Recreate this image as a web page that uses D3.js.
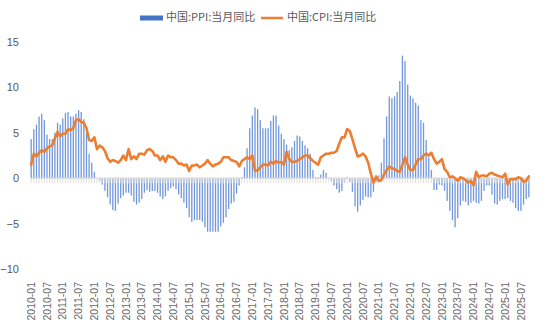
<!DOCTYPE html>
<html><head><meta charset="utf-8">
<script src="https://cdn.jsdelivr.net/npm/d3@7"></script>
<style>
html,body{margin:0;padding:0;background:#fff;}
svg{display:block;}
</style></head>
<body>
<svg id="chart" width="550" height="333"></svg>
<script>
const startYear = 2010;
const seriesNames = ["中国:PPI:当月同比", "中国:CPI:当月同比"];
const cpi = [
 1.5, 2.7, 2.4, 2.8, 3.1, 2.9, 3.3, 3.5, 3.6, 4.4, 5.1, 4.6,
 4.9, 4.9, 5.4, 5.3, 5.5, 6.4, 6.5, 6.2, 6.1, 5.5, 4.2, 4.1,
 4.5, 3.2, 3.6, 3.4, 3.0, 2.2, 1.8, 2.0, 1.9, 1.7, 2.0, 2.5,
 2.0, 3.2, 2.1, 2.4, 2.1, 2.7, 2.7, 2.6, 3.1, 3.2, 3.0, 2.5,
 2.5, 2.0, 2.4, 1.8, 2.5, 2.3, 2.3, 2.0, 1.6, 1.6, 1.4, 1.5,
 0.8, 1.4, 1.4, 1.5, 1.2, 1.4, 1.6, 2.0, 1.6, 1.3, 1.5, 1.6,
 1.8, 2.3, 2.3, 2.3, 2.0, 1.9, 1.8, 1.3, 1.9, 2.1, 2.3, 2.1,
 2.5, 0.8, 0.9, 1.2, 1.5, 1.5, 1.4, 1.8, 1.6, 1.9, 1.7, 1.8,
 1.5, 2.9, 2.1, 1.8, 1.8, 1.9, 2.1, 2.3, 2.5, 2.5, 2.2, 1.9,
 1.7, 1.5, 2.3, 2.5, 2.7, 2.7, 2.8, 2.8, 3.0, 3.8, 4.5, 4.5,
 5.4, 5.2, 4.3, 3.3, 2.4, 2.5, 2.7, 2.4, 1.7, 0.5, -0.5, 0.2,
 -0.3, -0.2, 0.4, 0.9, 1.3, 1.1, 1.0, 0.8, 0.7, 1.5, 2.3, 1.5,
 0.9, 0.9, 1.5, 2.1, 2.1, 2.5, 2.7, 2.5, 2.8, 2.1, 1.6, 1.8,
 2.1, 1.0, 0.7, 0.1, 0.2, 0.0, -0.3, 0.1, 0.0, -0.2, -0.5, -0.3,
 -0.8, 0.7, 0.1, 0.3, 0.3, 0.2, 0.5, 0.6, 0.4, 0.3, 0.2, 0.1,
 0.5, -0.7, -0.1, -0.1, -0.1, 0.1, 0.0, -0.4, -0.3, 0.2
];
const ppi = [
 4.3, 5.4, 5.9, 6.8, 7.1, 6.4, 4.8, 4.3, 4.3, 5.0, 6.1, 5.9,
 6.6, 7.2, 7.3, 6.8, 6.8, 7.1, 7.5, 7.3, 6.5, 5.0, 2.7, 1.7,
 0.7, 0.0, -0.3, -0.7, -1.4, -2.1, -2.9, -3.5, -3.6, -2.8, -2.2, -1.9,
 -1.6, -1.6, -1.9, -2.6, -2.9, -2.7, -2.3, -1.6, -1.3, -1.5, -1.4, -1.4,
 -1.6, -2.0, -2.3, -2.0, -1.4, -1.1, -0.9, -1.2, -1.8, -2.2, -2.7, -3.3,
 -4.3, -4.8, -4.6, -4.6, -4.6, -4.8, -5.4, -5.9, -5.9, -5.9, -5.9, -5.9,
 -5.3, -4.9, -4.3, -3.4, -2.8, -2.6, -1.7, -0.8, 0.1, 1.2, 3.3, 5.5,
 6.9, 7.8, 7.6, 6.4, 5.5, 5.5, 5.5, 6.3, 6.9, 6.9, 5.8, 4.9,
 4.3, 3.7, 3.1, 3.4, 4.1, 4.7, 4.6, 4.1, 3.6, 3.3, 2.7, 0.9,
 0.1, 0.1, 0.4, 0.9, 0.6, 0.0, -0.3, -0.8, -1.2, -1.6, -1.4, -0.5,
 0.1, -0.4, -1.5, -3.1, -3.7, -3.0, -2.4, -2.0, -2.1, -2.1, -1.5, -0.4,
 0.3, 1.7, 4.4, 6.8, 9.0, 8.8, 9.0, 9.5, 10.7, 13.5, 12.9, 10.3,
 9.1, 8.8, 8.3, 8.0, 6.4, 6.1, 4.2, 2.3, 0.9, -1.3, -1.3, -0.7,
 -0.8, -1.4, -2.5, -3.6, -4.6, -5.4, -4.4, -3.0, -2.5, -2.6, -3.0, -2.7,
 -2.5, -2.7, -2.8, -2.5, -1.4, -0.8, -0.8, -1.8, -2.8, -2.9, -2.5, -2.3,
 -2.3, -2.2, -2.5, -2.7, -3.3, -3.6, -3.6, -2.9, -2.3, -2.1
];
const months = ppi.map((_, i) => {
  const yy = startYear + Math.floor(i / 12), m = (i % 12) + 1;
  return yy + "-" + String(m).padStart(2, "0");
});
const tickLabels = months.filter((_, i) => i % 6 === 0);
const yTicks = [-10, -5, 0, 5, 10, 15];

const svg = d3.select("#chart");
const mLeft = 30, mRight = 530, mTop = 42, mBottom = 269;
const font = "'Liberation Sans', Arial, sans-serif";
const textColor = "#595959";

const x = d3.scaleBand().domain(months).range([mLeft, mRight]).paddingInner(0.5).paddingOuter(0.2);
const xc = d => x(d) + x.bandwidth() / 2;
const y = d3.scaleLinear().domain([-10, 15]).range([mBottom, mTop]);

// y axis labels
const yAxis = d3.axisLeft(y).tickValues(yTicks).tickSize(0).tickPadding(0);
const gy = svg.append("g").attr("transform", "translate(19,0)").call(yAxis);
gy.select(".domain").remove();
gy.selectAll("text").attr("fill", textColor).style("font-family", font).style("font-size", "11px");

// bars
svg.append("g").selectAll("rect").data(ppi).join("rect")
  .attr("x", (d, i) => x(months[i]))
  .attr("width", x.bandwidth())
  .attr("y", d => y(Math.max(0, d)))
  .attr("height", d => Math.abs(y(d) - y(0)))
  .attr("fill", "#7398dc");

// zero axis with category ticks
const xAxis = d3.axisBottom(x).tickValues(months).tickSize(5).tickFormat("");
const gx = svg.append("g").attr("transform", `translate(0,${y(0)})`).call(xAxis);
gx.select(".domain").attr("stroke", "#d9d9d9").attr("stroke-width", 1.2).attr("d", `M${mLeft},0H${mRight}`);
gx.selectAll(".tick line").attr("stroke", "#d9d9d9").attr("stroke-width", 0.8);

// CPI line
const line = d3.line().x((d, i) => xc(months[i])).y(d => y(d));
svg.append("path").datum(cpi).attr("d", line)
  .attr("fill", "none").attr("stroke", "#ED7D31").attr("stroke-width", 2.6)
  .attr("stroke-linejoin", "round").attr("stroke-linecap", "round");

// x labels
const xLab = d3.axisBottom(x).tickValues(tickLabels).tickSize(0).tickPadding(0);
const gl = svg.append("g").attr("transform", "translate(0,282)").call(xLab);
gl.select(".domain").remove();
gl.selectAll("text")
  .attr("transform", "rotate(-90)")
  .attr("text-anchor", "end")
  .attr("x", 0).attr("y", 0).attr("dy", "0.35em")
  .attr("fill", "#666666")
  .style("font-family", font).style("font-size", "10.5px");

// legend
const lg = svg.append("g").style("font-family", "'Noto Sans CJK SC', sans-serif").style("font-size", "11px");
lg.append("rect").attr("x", 140).attr("y", 15.5).attr("width", 23).attr("height", 5).attr("fill", "#4472C4");
lg.append("text").attr("x", 166).attr("y", 21).attr("fill", textColor).text(seriesNames[0]);
lg.append("line").attr("x1", 261).attr("x2", 283).attr("y1", 18).attr("y2", 18).attr("stroke", "#ED7D31").attr("stroke-width", 2.5);
lg.append("text").attr("x", 287).attr("y", 21).attr("fill", textColor).text(seriesNames[1]);
</script>
</body></html>
